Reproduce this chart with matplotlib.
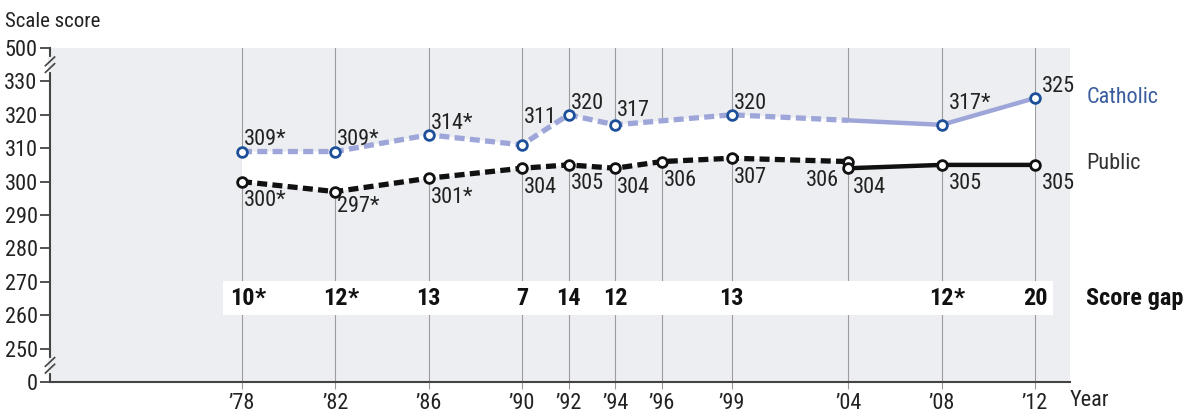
import numpy as np
import matplotlib.pyplot as plt
from matplotlib.patches import Rectangle
from matplotlib.transforms import blended_transform_factory

plt.rcParams['font.family'] = ['Roboto Condensed', 'Archivo Narrow', 'DejaVu Sans']

# data
years = [1978, 1982, 1986, 1990, 1992, 1994, 1996, 1999, 2004, 2008, 2012]
year_labels = ["\u201978", "\u201982", "\u201986", "\u201990", "\u201992", "\u201994",
               "\u201996", "\u201999", "\u201904", "\u201908", "\u201912"]

cath_years = [1978, 1982, 1986, 1990, 1992, 1994, 1999, 2008, 2012]
cath_scores = [309, 309, 314, 311, 320, 317, 320, 317, 325]
cath_labels = ["309*", "309*", "314*", "311", "320", "317", "320", "317*", "325"]

pub_years_old = [1978, 1982, 1986, 1990, 1992, 1994, 1996, 1999, 2004]
pub_scores_old = [300, 297, 301, 304, 305, 304, 306, 307, 306]
pub_labels_old = ["300*", "297*", "301*", "304", "305", "304", "306", "307", "306"]
pub_years_new = [2004, 2008, 2012]
pub_scores_new = [304, 305, 305]
pub_labels_new = ["304", "305", "305"]

gap_years = [1978, 1982, 1986, 1990, 1992, 1994, 1999, 2008, 2012]
gap_values = ["10", "12", "13", "7", "14", "12", "13", "12", "20"]
gap_signif = [True, True, False, False, False, False, False, True, False]

split_year = 2004  # accommodations permitted from here on

cath_color = '#9ea6d9'
cath_edge = '#1d4f9a'
bg = '#eceef1'

fig = plt.figure(figsize=(11.86, 4.15), dpi=100)
ax = fig.add_axes([50 / 1186, 33 / 415, 1020 / 1186, 334 / 415])
ax.set_facecolor(bg)
ax.set_xlim(1969.77, 2013.5)
ax.set_ylim(240, 340)

# y axis with breaks: 240 stands for 0, 340 for 500
yt = [240, 250, 260, 270, 280, 290, 300, 310, 320, 330, 340]
ax.set_yticks(yt)
ax.set_yticklabels(['0'] + [str(v) for v in yt[1:-1]] + ['500'], fontsize=16, color='#222')
ax.set_xticks(years)
ax.set_xticklabels(year_labels, fontsize=16, color='#222')
ax.tick_params(axis='y', length=7, width=1.3, color='#444', pad=2)
ax.tick_params(axis='x', length=5, width=0.8, color='#999', pad=3)
for s in ['top', 'right']:
    ax.spines[s].set_visible(False)
for s in ['left', 'bottom']:
    ax.spines[s].set_color('#444')
    ax.spines[s].set_linewidth(1.5)

for yr in years:
    ax.axvline(yr, color='#9c9c9c', lw=0.8, zorder=1)

# white area between the two lines
poly_x = list(cath_years) + list(pub_years_new[::-1]) + list(pub_years_old[::-1])
poly_y = list(cath_scores) + list(pub_scores_new[::-1]) + list(pub_scores_old[::-1])
ax.fill(poly_x, poly_y, color='white', lw=0, zorder=2)

# score gap band
ax.add_patch(Rectangle((1977.2, 260.2), 2012.77 - 1977.2, 10.1, color='white', lw=0, zorder=2))

# Catholic: dashed before 2004, solid after
clip_old = Rectangle((1960, 200), split_year - 1960, 200, transform=ax.transData)
clip_new = Rectangle((split_year, 200), 30, 200, transform=ax.transData)
l1, = ax.plot(cath_years, cath_scores, color=cath_color, lw=3.8, dashes=(1.9, 1.0), zorder=3)
l1.set_clip_path(clip_old)
l2, = ax.plot(cath_years, cath_scores, color=cath_color, lw=3.2, zorder=3)
l2.set_clip_path(clip_new)
ax.plot(cath_years, cath_scores, ls='none', marker='o', ms=7, mfc='white', mec=cath_edge,
        mew=2, zorder=5)

# Public
ax.plot(pub_years_old, pub_scores_old, color='#111', lw=3.8, dashes=(1.9, 1.0), zorder=3)
ax.plot(pub_years_new, pub_scores_new, color='#111', lw=3.2, zorder=3)
ax.plot(pub_years_old + pub_years_new, pub_scores_old + pub_scores_new, ls='none', marker='o',
        ms=7, mfc='white', mec='#111', mew=2, zorder=5)

# value labels
cath_off = {1990: (1.5, 16), 1994: (1.5, 6.5), 2008: (5, 11.5), 2012: (5, 4.5)}
for x, y, t in zip(cath_years, cath_scores, cath_labels):
    ax.annotate(t, (x, y), xytext=cath_off.get(x, (1.5, 4.5)), textcoords='offset points',
                ha='left', va='baseline', fontsize=16, color='#222', zorder=6)
for x, y, t in zip(pub_years_old, pub_scores_old, pub_labels_old):
    if x == split_year:
        ax.annotate(t, (x, y), xytext=(-7, -17.5), textcoords='offset points',
                    ha='right', va='baseline', fontsize=16, color='#222', zorder=6)
    else:
        off = (1.5, -14.5) if x == 1982 else (1.5, -17.5)
        ax.annotate(t, (x, y), xytext=off, textcoords='offset points',
                    ha='left', va='baseline', fontsize=16, color='#222', zorder=6)
for x, y, t in zip(pub_years_new, pub_scores_new, pub_labels_new):
    off = (3.5, -17.5) if x == split_year else (5, -17)
    ax.annotate(t, (x, y), xytext=off, textcoords='offset points',
                ha='left', va='baseline', fontsize=16, color='#222', zorder=6)

# score gaps
for x, g, sig in zip(gap_years, gap_values, gap_signif):
    t = ax.text(x, 265, g, ha='center', va='center', fontsize=17.5, fontweight='bold',
                color='#111', zorder=6)
    if sig:
        ax.annotate('*', xy=(1, 1), xycoords=t, ha='left', va='top', fontsize=17.5,
                    fontweight='bold', color='#111', zorder=6)

# right-side labels
ax.text(2014.2, 325.3, 'Catholic', fontsize=16, color='#3b5c9e', va='center', clip_on=False)
ax.text(2014.2, 305.4, 'Public', fontsize=16, color='#333', va='center', clip_on=False)
ax.text(2014.2, 265, 'Score gap', fontsize=17.5, fontweight='bold', color='#111',
        va='center', clip_on=False)

fig.text(5 / 1186, 1 - 27 / 415, 'Scale score', fontsize=15, color='#222', va='baseline')
fig.text(1070 / 1186, 1 - 406 / 415, 'Year', fontsize=16, color='#222', va='baseline')

# axis break marks
tr = blended_transform_factory(ax.transAxes, ax.transData)
for yb in (335, 245):
    ax.plot([0, 0], [yb - 1.6, yb + 1.6], color=bg, lw=3, transform=tr, clip_on=False, zorder=7)
    for d in (-1.0, 1.0):
        ax.plot([-0.0045, 0.0045], [yb + d - 1.3, yb + d + 1.3], color='#444', lw=1.2,
                transform=tr, clip_on=False, zorder=8)

fig.savefig('out.png', dpi=100)
